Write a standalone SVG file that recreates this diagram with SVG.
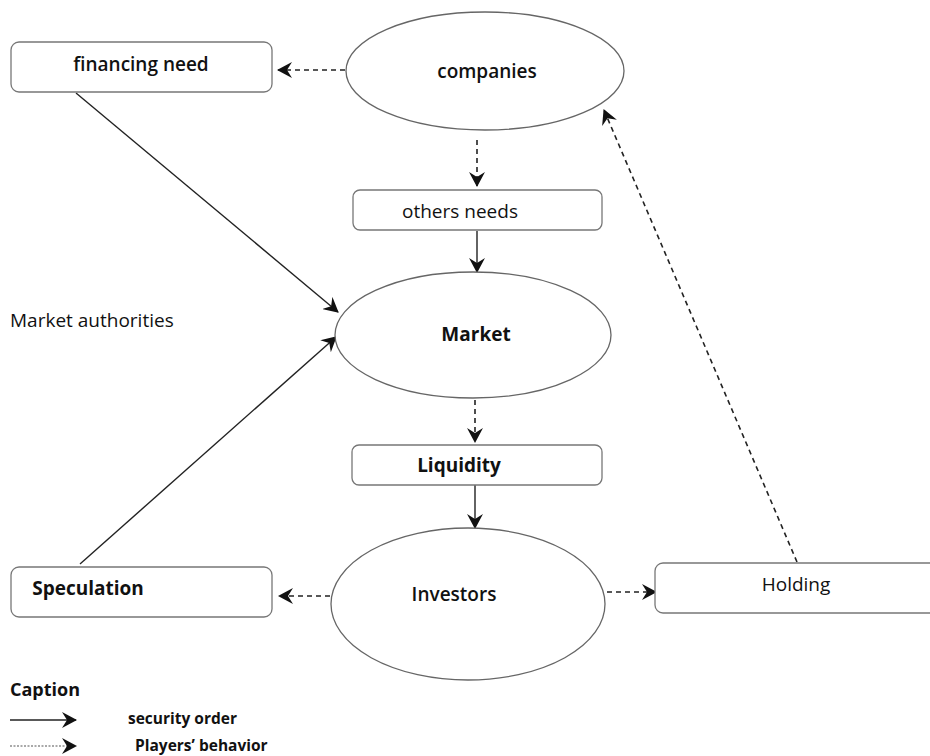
<svg xmlns="http://www.w3.org/2000/svg" width="930" height="756" viewBox="0 0 930 756">
<defs>
<marker id="ah" markerWidth="16" markerHeight="16" refX="14" refY="8" orient="auto" markerUnits="userSpaceOnUse">
<path d="M0,0 L15,8 L0,16 L5,8 Z" fill="#111"/>
</marker>
<style>
.box{fill:#fff;stroke:#777;stroke-width:1.3}
.ell{fill:#fff;stroke:#666;stroke-width:1.3}
.t{font-family:"Open Sans","Noto Sans",sans-serif;font-size:19px;fill:#111}
.b{font-weight:700}
.sb{font-weight:600}
.solid{stroke:#222;stroke-width:1.4;fill:none}
.dash{stroke:#222;stroke-width:1.6;fill:none;stroke-dasharray:5 4}
.dot{stroke:#555;stroke-width:1.2;fill:none;stroke-dasharray:2 1.5}
</style>
</defs>
<rect width="930" height="756" fill="#fff"/>
<g id="connectors">
<line class="dash" x1="345" y1="70" x2="278" y2="70" marker-end="url(#ah)"/>
<line class="dash" x1="477" y1="140" x2="477" y2="186" marker-end="url(#ah)"/>
<line class="solid" x1="477" y1="231" x2="477" y2="272" marker-end="url(#ah)"/>
<line class="solid" x1="76" y1="93" x2="338" y2="312" marker-end="url(#ah)"/>
<line class="solid" x1="80" y1="564" x2="336" y2="337" marker-end="url(#ah)"/>
<line class="dash" x1="475" y1="400" x2="475" y2="442" marker-end="url(#ah)"/>
<line class="solid" x1="475" y1="485" x2="475" y2="528" marker-end="url(#ah)"/>
<line class="dash" x1="330" y1="596" x2="279" y2="596" marker-end="url(#ah)"/>
<line class="dash" x1="607" y1="592" x2="656" y2="592" marker-end="url(#ah)"/>
<line class="dash" x1="797" y1="562" x2="604" y2="110" marker-end="url(#ah)"/>
</g>
<g id="companies">
<ellipse class="ell" cx="485" cy="71" rx="139" ry="59"/>
<text class="t sb" x="487" y="78" text-anchor="middle">companies</text>
</g>
<g id="financing-need">
<rect class="box" x="11" y="42" width="261" height="50" rx="8"/>
<text class="t sb" x="141" y="71" text-anchor="middle">financing need</text>
</g>
<g id="others-needs">
<rect class="box" x="353" y="190" width="249" height="40" rx="7"/>
<text class="t" x="460" y="218" text-anchor="middle">others needs</text>
</g>
<g id="market-authorities">
<text class="t" x="10" y="327">Market authorities</text>
</g>
<g id="market">
<ellipse class="ell" cx="473" cy="335" rx="138" ry="63"/>
<text class="t b" x="476" y="341" text-anchor="middle">Market</text>
</g>
<g id="liquidity">
<rect class="box" x="352" y="445" width="250" height="40" rx="7"/>
<text class="t b" x="459" y="472" text-anchor="middle">Liquidity</text>
</g>
<g id="investors">
<ellipse class="ell" cx="468" cy="604" rx="137" ry="76"/>
<text class="t sb" x="454" y="601" text-anchor="middle">Investors</text>
</g>
<g id="speculation">
<rect class="box" x="11" y="567" width="261" height="50" rx="8"/>
<text class="t b" x="88" y="595" text-anchor="middle">Speculation</text>
</g>
<g id="holding">
<rect class="box" x="655" y="563" width="290" height="50" rx="8"/>
<text class="t" x="796" y="591" text-anchor="middle">Holding</text>
</g>
<g id="caption">
<text class="t b" x="10" y="696" style="font-size:18px">Caption</text>
<line class="solid" x1="10" y1="720" x2="76" y2="720" marker-end="url(#ah)"/>
<text class="t b" x="128" y="724" style="font-size:15.5px">security order</text>
<line class="dot" x1="10" y1="746" x2="76" y2="746" marker-end="url(#ah)"/>
<text class="t b" x="135" y="751" style="font-size:15.5px">Players’ behavior</text>
</g>
</svg>
